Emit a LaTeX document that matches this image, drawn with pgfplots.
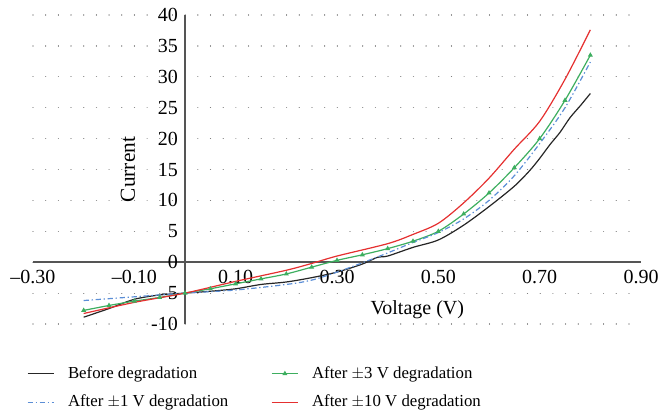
\documentclass[border=0pt]{standalone}
\usepackage{pgfplots}
\pgfplotsset{compat=1.18}
\usepackage{fontspec}
\setmainfont{Liberation Serif}
\definecolor{cblack}{HTML}{262626}
\definecolor{cblue}{HTML}{5B8ED6}
\definecolor{cgreen}{HTML}{3DAE5F}
\definecolor{cred}{HTML}{E53030}
\definecolor{caxis}{HTML}{555555}
\definecolor{cgrid}{HTML}{808080}
\begin{document}
\fontsize{12.6}{15}\selectfont
\begin{tikzpicture}
\begin{axis}[
 at={(0,0)}, anchor=south west,
 scale only axis, width=456pt, height=231.75pt,
 xmin=-0.3, xmax=0.9, ymin=-10, ymax=40,
 axis lines=middle, axis line style={-, caxis, line width=1.1pt},
 xtick={-0.3,-0.1,0.1,0.3,0.5,0.7,0.9},
 xticklabels={–0.30,–0.10,0.10,0.30,0.50,0.70,0.90},
 ytick={-10,-5,0,5,10,15,20,25,30,35,40},
 yticklabels={-10,-5,0,5,10,15,20,25,30,35,40},
 hide obscured y ticks=false, hide obscured x ticks=false,
 major tick length=0pt,
 tick label style={font=\fontsize{15}{17}\selectfont},
 x tick label style={anchor=north, yshift=-1.5pt},
 y tick label style={anchor=east, xshift=-1pt},
 ymajorgrids,
 major grid style={cgrid, line width=0.9pt, dash pattern=on 0.01pt off 9.5pt, line cap=round},
 xlabel={Voltage (V)}, ylabel={Current},
 xlabel style={at={(axis description cs:0.632,0.047)}, anchor=center, font=\fontsize{15}{17}\selectfont},
 ylabel style={at={(axis description cs:0.156,0.50)}, anchor=center, rotate=90, font=\fontsize{16}{18}\selectfont},
 legend columns=2,
 legend cell align=left,
 legend style={at={(axis description cs:-0.017,-0.105)}, anchor=north west, draw=none, fill=none,
   nodes={inner ysep=5.3pt},
   /tikz/every even column/.append style={column sep=30pt},
   /tikz/every odd column/.append style={column sep=8pt}},
 legend image code/.code={\draw[mark repeat=2,mark phase=2,#1] plot coordinates {(0cm,0cm) (0.35cm,0cm) (0.7cm,0cm)};},
]
\addlegendimage{draw=cblack, line width=0.9pt}
\addlegendentry{Before degradation}
\addlegendimage{draw=cgreen, line width=0.9pt, mark=triangle*, mark size=1.3pt, mark options={solid, fill=cgreen, draw=cgreen}}
\addlegendentry{After $\pm$3 V degradation}
\addlegendimage{draw=cblue, line width=0.9pt, dash pattern=on 4pt off 2pt on 1pt off 2pt}
\addlegendentry{After $\pm$1 V degradation}
\addlegendimage{draw=cred, color=cred, line width=0.9pt}
\addlegendentry{After $\pm$10 V degradation}
\addplot[forget plot, cblack, line width=0.9pt, smooth] coordinates {
(-0.2,-8.9) (-0.15,-7.5) (-0.1,-6.0) (-0.05,-5.3) (0,-5.0) (0.05,-4.7) (0.1,-4.3) (0.15,-3.6) (0.2,-3.2) (0.25,-2.5) (0.3,-1.6) (0.35,-0.3) (0.38,0.8) (0.4,1.0) (0.45,2.4) (0.5,3.6) (0.55,6.0) (0.6,9.0) (0.65,12.3) (0.68,14.8) (0.7,16.8) (0.72,19.0) (0.74,21.0) (0.76,23.4) (0.78,25.3) (0.8,27.3)};
\addplot[forget plot, cgreen, line width=0.9pt, smooth, mark=triangle*, mark size=1.3pt, mark options={solid, fill=cgreen}] coordinates {
(-0.2,-7.8) (-0.15,-7.0) (-0.1,-6.3) (-0.05,-5.7) (0,-5.0) (0.05,-4.3) (0.1,-3.5) (0.15,-2.7) (0.2,-1.9) (0.25,-0.8) (0.3,0.3) (0.35,1.2) (0.4,2.2) (0.45,3.4) (0.5,5.0) (0.55,7.8) (0.6,11.2) (0.65,15.3) (0.7,20.0) (0.75,26.2) (0.8,33.5)};
\addplot[forget plot, cblue, line width=0.9pt, smooth, dash pattern=on 4pt off 2pt on 1pt off 2pt] coordinates {
(-0.2,-6.2) (-0.1,-5.6) (0,-5.0) (0.1,-4.5) (0.2,-3.6) (0.25,-2.9) (0.3,-1.6) (0.35,-0.1) (0.4,1.5) (0.45,3.2) (0.5,4.8) (0.55,7.0) (0.6,10.0) (0.65,14.0) (0.7,19.2) (0.75,25.0) (0.8,32.4)};
\addplot[forget plot, cred, line width=0.9pt, smooth] coordinates {
(-0.2,-8.3) (-0.1,-6.5) (0,-5.0) (0.1,-3.1) (0.2,-1.3) (0.25,-0.2) (0.3,1.0) (0.4,3.0) (0.45,4.5) (0.5,6.3) (0.55,9.6) (0.6,13.6) (0.65,18.3) (0.7,22.8) (0.75,29.6) (0.8,37.6)};
\end{axis}
\pgfresetboundingbox
\path[use as bounding box] (-24.75pt,-68.25pt) rectangle (469.5pt,243pt);
\end{tikzpicture}
\end{document}
